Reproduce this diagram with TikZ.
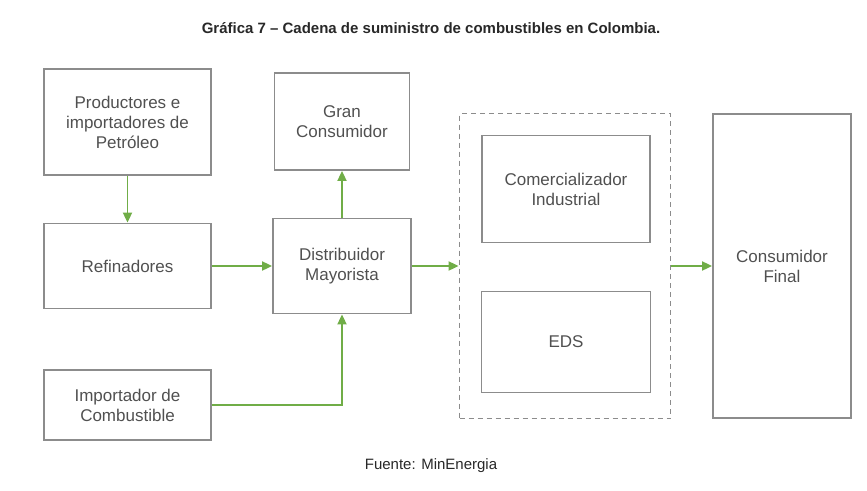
\documentclass[tikz,border=0pt]{standalone}
\usepackage{fontspec}
\setmainfont{Liberation Sans}
\usetikzlibrary{arrows.meta}
\usepackage{xcolor}
\definecolor{verde}{RGB}{112,173,71}
\definecolor{gris}{RGB}{140,140,140}
\definecolor{texto}{RGB}{80,80,80}
\definecolor{titulo}{RGB}{40,40,40}

\begin{document}
\begin{tikzpicture}[x=1pt,y=-1pt,every node/.style={draw=gris,line width=1.8pt,text=texto,align=center,inner sep=0pt,font=\fontsize{17}{20}\selectfont}]
    \useasboundingbox (0,0) rectangle (867,490);
    \node[minimum width=167pt,minimum height=106pt] (prod) at (127.5,122) {Productores e\\importadores de\\Petróleo};
    \node[minimum width=167pt,minimum height=85pt] (ref) at (127.5,266) {Refinadores};
    \node[minimum width=167pt,minimum height=70pt] (imp) at (127.5,405) {Importador de\\Combustible};
    \node[minimum width=135pt,minimum height=97pt] (gran) at (342,121.5) {Gran\\Consumidor};
    \node[minimum width=138pt,minimum height=95pt] (dist) at (342,266) {Distribuidor\\Mayorista};
    \node[dash pattern=on 5pt off 4pt,minimum width=211pt,minimum height=305pt] (grupo) at (565,266) {};
    \node[minimum width=168pt,minimum height=107pt] (com) at (566,189) {Comercializador\\Industrial};
    \node[minimum width=169pt,minimum height=101pt] (eds) at (566,342) {EDS};
    \node[minimum width=138pt,minimum height=304pt] (final) at (782,266) {Consumidor\\Final};

    \tikzset{every node/.style={}}
    \node[font=\bfseries\fontsize{15}{18}\selectfont,text=titulo] (tit) at (431,28) {Gráfica 7 – Cadena de suministro de combustibles en Colombia.};
    \node[font=\fontsize{15}{18}\selectfont,text=titulo] (fuente) at (431,466) {Fuente: MinEnergia};

    \tikzset{flecha/.style={verde,line width=1.8pt,-{Triangle[length=10pt,width=9pt]}}}
    \draw[flecha] (prod) to (ref);
    \draw[flecha] (ref) to (dist);
    \draw[flecha] (dist) to (gran);
    \draw[flecha] (imp.east) -| (dist.south);
    \draw[flecha] (dist) to (grupo);
    \draw[flecha] (grupo) to (final);
\end{tikzpicture}
\end{document}
